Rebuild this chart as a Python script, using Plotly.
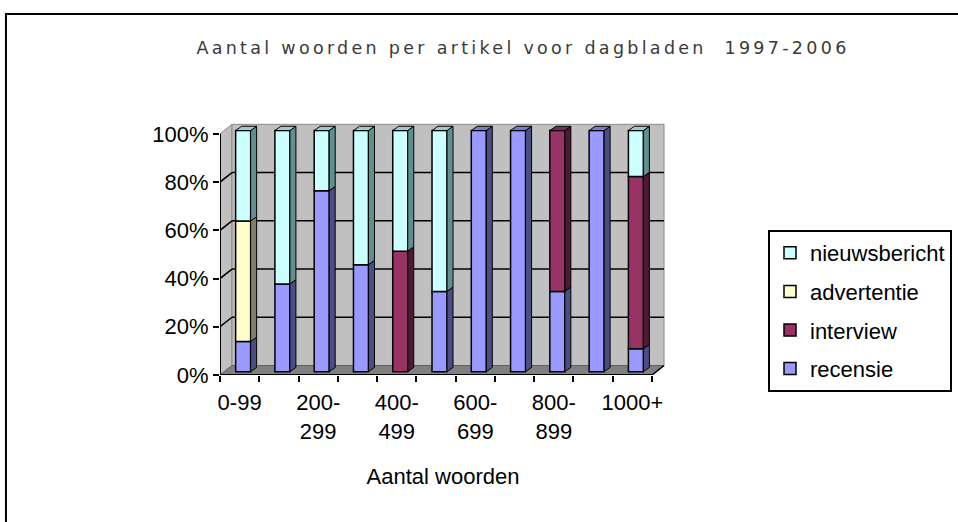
import plotly.graph_objects as go

# ---------------- data ----------------
categories = ["0-99", "100-199", "200-299", "300-399", "400-499", "500-599",
              "600-699", "700-799", "800-899", "900-999", "1000+"]
x_tick_labels = ["0-99", "", "200-<br>299", "", "400-<br>499", "", "600-<br>699",
                 "", "800-<br>899", "", "1000+"]
y_tick_values = [0, 20, 40, 60, 80, 100]
y_tick_labels = ["0%", "20%", "40%", "60%", "80%", "100%"]

recensie = [12.5, 36.4, 75.0, 44.4, 0, 33.3, 100, 100, 33.3, 100, 9.5]
interview = [0, 0, 0, 0, 50.0, 0, 0, 0, 66.7, 0, 71.4]
advertentie = [50.0, 0, 0, 0, 0, 0, 0, 0, 0, 0, 0]
nieuwsbericht = [37.5, 63.6, 25.0, 55.6, 50.0, 66.7, 0, 0, 0, 0, 19.1]

title_text = "Aantal woorden per artikel voor dagbladen  1997-2006"
x_title = "Aantal woorden"

# ---------------- styles ----------------
# stacking order bottom -> top
series = [
    ("recensie", recensie),
    ("interview", interview),
    ("advertentie", advertentie),
    ("nieuwsbericht", nieuwsbericht),
]
legend_rank = {"nieuwsbericht": 1, "advertentie": 2, "interview": 3, "recensie": 4}
front_col = {"recensie": "#9999FF", "interview": "#993366",
             "advertentie": "#FFFFCC", "nieuwsbericht": "#CCFFFF"}
side_col = {"recensie": "#4D4D85", "interview": "#4D1A33",
            "advertentie": "#808066", "nieuwsbericht": "#5F8F8F"}
top_col = {"recensie": "#7A7AC8", "interview": "#7A2952",
           "advertentie": "#CCCCA3", "nieuwsbericht": "#99CCCC"}

W, H = 958, 522
L_PX, B_PX = 220, 375          # left edge of axis / y=0 position
XU = 39.27                     # px per category
YU = 2.4115                    # px per percent
n = len(categories)
X_END = 10.5
DXW, DYW = 12 / XU, 9.5 / YU   # depth of the 3D walls
BAR_W = 15 / XU
BAR_SHIFT = 3.5 / XU
LIFT = 3.3 / YU
DXS, DYS = 6 / XU, 4.3 / YU    # bar depth
x_range = [-0.5, X_END + DXW + 0.05]
y_range = [0, 104.5]
plot_w = (x_range[1] - x_range[0]) * XU
plot_h = (y_range[1] - y_range[0]) * YU
T_PX = B_PX - plot_h
R_PX = L_PX + plot_w

FONT = "Liberation Sans, Arial, sans-serif"

fig = go.Figure()

xs = list(range(n))
cum = [0.0] * n
offset = BAR_SHIFT - BAR_W / 2
shapes = []

# walls and floor (below traces)
xw0, xw1 = -0.5 + DXW, X_END + DXW
shapes.append(dict(type="path", layer="below", xref="x", yref="y",
                   path=f"M -0.5,0 L -0.5,100 L {xw0},{100+DYW} L {xw0},{DYW} Z",
                   fillcolor="#C0C0C0", line=dict(color="#8C8C8C", width=1)))
shapes.append(dict(type="rect", layer="below", xref="x", yref="y",
                   x0=xw0, x1=xw1, y0=DYW, y1=100 + DYW,
                   fillcolor="#C0C0C0", line=dict(color="#8C8C8C", width=1)))
shapes.append(dict(type="path", layer="below", xref="x", yref="y",
                   path=f"M -0.5,0 L {X_END},0 L {xw1},{DYW} L {xw0},{DYW} Z",
                   fillcolor="#808080", line=dict(color="#606060", width=1)))
for v in y_tick_values[1:-1]:
    shapes.append(dict(type="line", layer="below", xref="x", yref="y",
                       x0=xw0, x1=xw1, y0=v + DYW, y1=v + DYW,
                       line=dict(color="black", width=1.5)))
    shapes.append(dict(type="line", layer="below", xref="x", yref="y",
                       x0=-0.5, x1=xw0, y0=v, y1=v + DYW,
                       line=dict(color="black", width=1.5)))

for name, vals in series:
    ys = [v if v > 0 else None for v in vals]
    bases = [cum[i] + LIFT for i in range(n)]
    fig.add_trace(go.Bar(
        x=xs, y=ys, base=bases, name=name, width=BAR_W, offset=offset,
        marker=dict(color=front_col[name], line=dict(color="black", width=1.5)),
        legendgroup=name, legendrank=legend_rank[name], hoverinfo="skip",
    ))
    for i in range(n):
        if vals[i] <= 0:
            continue
        b = cum[i] + LIFT
        t = cum[i] + vals[i] + LIFT
        xr = xs[i] + offset + BAR_W
        shapes.append(dict(type="path", layer="above", xref="x", yref="y",
                           path=f"M {xr},{b} L {xr+DXS},{b+DYS} L {xr+DXS},{t+DYS} L {xr},{t} Z",
                           fillcolor=side_col[name], line=dict(color="black", width=1)))
    cum = [cum[i] + vals[i] for i in range(n)]

# top caps for the uppermost segment
for i in range(n):
    top_name = None
    for name, vals in series:
        if vals[i] > 0:
            top_name = name
    t = cum[i] + LIFT
    xl = xs[i] + offset
    xr = xl + BAR_W
    shapes.append(dict(type="path", layer="above", xref="x", yref="y",
                       path=f"M {xl},{t} L {xr},{t} L {xr+DXS},{t+DYS} L {xl+DXS},{t+DYS} Z",
                       fillcolor=top_col[top_name], line=dict(color="black", width=1)))

# axis lines
shapes.append(dict(type="line", layer="above", xref="x", yref="y",
                   x0=-0.5, x1=-0.5, y0=0, y1=100, line=dict(color="black", width=2)))
shapes.append(dict(type="line", layer="above", xref="x", yref="y",
                   x0=-0.5, x1=X_END, y0=0, y1=0, line=dict(color="black", width=2)))
shapes.append(dict(type="line", layer="above", xref="x", yref="y",
                   x0=X_END, x1=xw1, y0=0, y1=DYW, line=dict(color="black", width=1.5)))

# outer chart frame (paper coords computed from pixels)
def px_x(p):
    return (p - L_PX) / plot_w

def px_y(p):
    return (B_PX - p) / plot_h

shapes.append(dict(type="rect", layer="above", xref="paper", yref="paper",
                   x0=px_x(6), x1=px_x(975), y0=px_y(14), y1=px_y(540),
                   fillcolor="rgba(0,0,0,0)", line=dict(color="black", width=2)))

fig.update_layout(
    template="none",
    width=W, height=H,
    margin=dict(l=L_PX, r=W - R_PX, t=T_PX, b=H - B_PX, pad=0),
    paper_bgcolor="white", plot_bgcolor="white",
    barmode="overlay",
    shapes=shapes,
    font=dict(family=FONT, size=22, color="black"),
    title=dict(text='<span style="letter-spacing:3.3px">' + title_text + '</span>',
               xref="container", yref="container",
               x=523 / W, y=1 - 48 / H, xanchor="center", yanchor="middle",
               font=dict(family="DejaVu Sans, sans-serif", size=17.5, color="#3A3A3A")),
    xaxis=dict(range=x_range, showgrid=False, zeroline=False, showline=False,
               tickmode="array", tickvals=xs, ticktext=x_tick_labels, ticks="",
               ticklabelstandoff=12,
               minor=dict(tickmode="array", tickvals=[i - 0.5 for i in range(n + 1)],
                          ticks="outside", ticklen=6, tickwidth=2, tickcolor="black"),
               tickfont=dict(size=22),
               title=dict(text=x_title, font=dict(size=22), standoff=26),
               automargin=False, fixedrange=True),
    yaxis=dict(range=y_range, showgrid=False, zeroline=False, showline=False,
               tickmode="array", tickvals=y_tick_values, ticktext=y_tick_labels,
               ticks="outside", ticklen=6, tickwidth=2, tickcolor="black",
               tickfont=dict(size=22), automargin=False, fixedrange=True),
    legend=dict(xref="container", yref="container", x=952 / W, y=1 - 230 / H,
                xanchor="right", yanchor="top", bgcolor="white",
                bordercolor="black", borderwidth=2, font=dict(size=22),
                traceorder="grouped", tracegroupgap=7),
    showlegend=True,
)

fig.write_html("out.html", config={"displayModeBar": False},
               post_script="document.body.style.margin='0';")
